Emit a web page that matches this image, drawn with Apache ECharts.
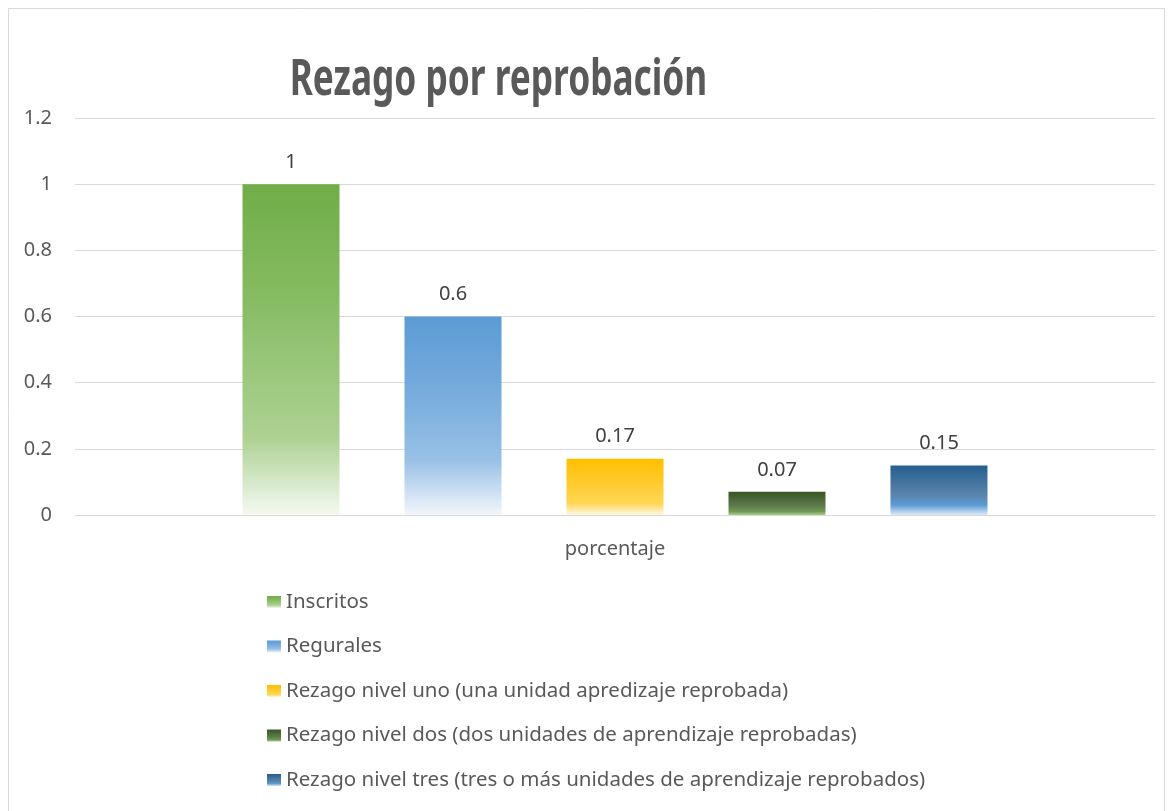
<!DOCTYPE html>
<html><head><meta charset="utf-8">
<script src="https://cdn.jsdelivr.net/npm/echarts@6/dist/echarts.min.js"></script>
<style>html,body{margin:0;padding:0;background:#fff}#c{width:1171px;height:811px}</style>
</head><body><div id="c"></div>
<script>
const titleText = 'Rezago por reprobación';
const categories = ['porcentaje'];
const seriesNames = [
  'Inscritos',
  'Regurales',
  'Rezago nivel uno (una unidad apredizaje reprobada)',
  'Rezago nivel dos (dos unidades de aprendizaje reprobadas)',
  'Rezago nivel tres (tres o más unidades de aprendizaje reprobados)'
];
const inscritos = [1];
const regurales = [0.6];
const nivelUno = [0.17];
const nivelDos = [0.07];
const nivelTres = [0.15];
const yTicks = { min: 0, max: 1.2, interval: 0.2 };

function grad(stops){
  return {type:'linear',x:0,y:0,x2:0,y2:1,colorStops:stops.map(s=>({offset:s[0],color:s[1]}))};
}
const fills = [
  grad([[0,'#70AD47'],[0.35,'#86BC63'],[0.77,'#ADD293'],[1,'#F5F9F2']]),
  grad([[0,'#5B9BD5'],[0.35,'#74AADC'],[0.72,'#98C0E6'],[1,'#F2F6FC']]),
  grad([[0,'#FFC000'],[0.6,'#FFCF3F'],[0.8,'#FFD859'],[1,'#FFF8E6']]),
  grad([[0,'#375623'],[0.6,'#5E7A4C'],[0.85,'#6F9A55'],[1,'#A9D18E']]),
  grad([[0,'#255E91'],[0.6,'#5A84AB'],[0.8,'#5B9BD5'],[1,'#DDEBF7']])
];
const dataSets = [inscritos, regurales, nivelUno, nivelDos, nivelTres];

const chart = echarts.init(document.getElementById('c'), null, {renderer:'canvas'});
chart.setOption({
  animation:false,
  backgroundColor:'#fff',
  textStyle:{fontFamily:'Noto Sans'},
  graphic:[
    {type:'rect',shape:{x:8.5,y:8.5,width:1156,height:810},style:{fill:'none',stroke:'#D9D9D9',lineWidth:1},silent:true},
    {type:'text',x:498.5,y:81,scaleX:0.705,scaleY:1,silent:true,
     style:{text:titleText,x:0,y:0,align:'center',verticalAlign:'middle',
       font:'bold 50px "Noto Sans"',fill:'#595959'}}
  ],
  grid:{left:75,right:16,top:118,bottom:296,containLabel:false},
  legend:{
    orient:'vertical', left:262, top:584, itemGap:18.5,
    itemWidth:14, itemHeight:12, icon:'rect',
    textStyle:{fontFamily:'Noto Sans',fontSize:20.5,lineHeight:26,color:'#595959'},
    data:seriesNames
  },
  xAxis:{
    type:'category', data:categories,
    axisLine:{lineStyle:{color:'#D9D9D9',width:1}},
    axisTick:{show:false},
    axisLabel:{fontFamily:'Noto Sans',fontSize:20,color:'#595959',margin:24}
  },
  yAxis:{
    type:'value', min:yTicks.min, max:yTicks.max, interval:yTicks.interval,
    axisLine:{show:false}, axisTick:{show:false},
    splitLine:{lineStyle:{color:'#D9D9D9',width:1}},
    axisLabel:{fontFamily:'Noto Sans',fontSize:20,color:'#595959',margin:23,
      formatter:v=>String(Math.round(v*10)/10)}
  },
  series: dataSets.map((d,i)=>({
    name:seriesNames[i], type:'bar', data:d,
    barWidth:97, barGap:'67%',
    itemStyle:{color:fills[i]},
    label:{show:true,position:'top',distance:12,fontFamily:'Noto Sans',fontSize:20,color:'#404040'}
  }))
});
</script></body></html>
